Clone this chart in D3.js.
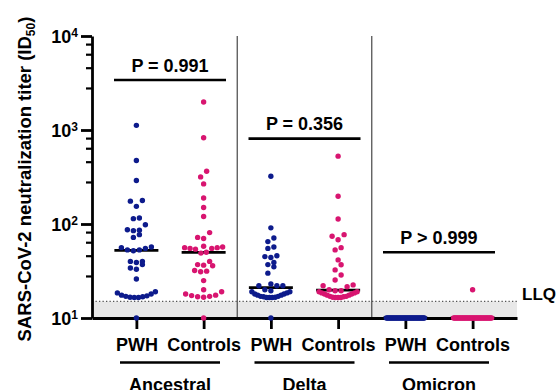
<!DOCTYPE html>
<html>
<head>
<meta charset="utf-8">
<script src="https://cdn.jsdelivr.net/npm/d3@7"></script>
<style>
body { margin: 0; background: #fff; }
svg text { font-family: "Liberation Sans", Arial, sans-serif; font-weight: bold; fill: #000; }
</style>
</head>
<body>
<div id="chart"></div>
<script>
var variants = ["Ancestral", "Delta", "Omicron"];
var groups = ["PWH", "Controls"];
var pLabels = ["P = 0.991", "P = 0.356", "P > 0.999"];
var pBracketAt = [3400, 810, 50];   // titer level of each P bracket
var llq = 15;
var yTicks = [10, 100, 1000, 10000];
var yMinor = [28, 46, 64, 82, 280, 460, 640, 820, 2800, 4600, 6400, 8200];

var ancestralPWH = [1120, 474, 290, 178, 175, 154, 116, 114, 98, 87, 86, 85, 77, 72,
    57, 56, 55, 53, 53, 52, 40, 40, 39, 37, 34, 33, 26,
    19, 18.5, 18, 17.5, 17.2, 17, 16.8, 16.5, 16.5, 16.6, 10];
var ancestralControls = [1985, 828, 364, 317, 267, 189, 150, 120, 81, 72, 70,
    58, 57, 56, 56, 55, 55, 54, 50, 49, 40, 37, 36.5, 36, 32, 31.5, 31, 25,
    20, 19, 18, 17.5, 17.3, 17, 16.8, 16.6, 10];
var deltaPWH = [322, 91, 71, 65, 57, 55, 46, 45, 44, 39, 37, 35, 30, 23, 22, 22, 22,
    20, 19.5, 19, 19, 18.5, 18, 18, 17.5, 17.5, 17, 17, 16.8, 16.6, 16.5, 16.5, 16.5, 10];
var deltaControls = [527, 197, 113, 77, 74, 68, 56, 53, 41.5, 36.8, 32.5, 28.7, 25.4, 22.5, 22, 21.5,
    20, 19.5, 19.5, 19, 19, 18.5, 18.5, 18, 18, 17.5, 17.5, 17, 17, 16.8, 16.6, 16.5, 16.5, 16.5];
var omicronPWH = [10, 10, 10, 10, 10, 10, 10, 10, 10, 10, 10, 10, 10, 10, 10, 10, 10, 10, 10,
    10, 10, 10, 10, 10, 10, 10, 10, 10, 10, 10, 10, 10, 10, 10, 10, 10, 10];
var omicronControls = [20, 10, 10, 10, 10, 10, 10, 10, 10, 10, 10, 10, 10, 10, 10, 10, 10, 10, 10,
    10, 10, 10, 10, 10, 10, 10, 10, 10, 10, 10, 10, 10, 10, 10, 10, 10, 10];

var series = [ancestralPWH, ancestralControls, deltaPWH, deltaControls, omicronPWH, omicronControls];
var colors = { PWH: "#0d1b8c", Controls: "#d81570" };

var width = 559, height = 390;
var plotLeft = 92, plotRight = 517, plotTop = 36, plotBottom = 318;
var r = 2.7, rowH = 6.5, dotStep = 6, maxSpread = 38, medHalf = 22;

var svg = d3.select("#chart").append("svg")
    .attr("width", width)
    .attr("height", height);

var keys = [];
variants.forEach(function (v) { groups.forEach(function (g) { keys.push(v + "|" + g); }); });

var x = d3.scalePoint().domain(keys).range([plotLeft, plotRight]).padding(0.66);
var y = d3.scaleLog().domain([10, 10000]).range([plotBottom, plotTop]);

// area below the limit of quantification
svg.append("rect")
    .attr("x", plotLeft)
    .attr("y", y(llq))
    .attr("width", plotRight - plotLeft)
    .attr("height", plotBottom - y(llq))
    .style("fill", "#e8e8e8");

svg.append("line")
    .attr("x1", plotLeft).attr("x2", plotRight)
    .attr("y1", y(llq)).attr("y2", y(llq))
    .style("stroke", "#555")
    .style("stroke-width", 1.3)
    .style("stroke-dasharray", "1.3,2.2");

svg.append("text")
    .text("LLQ")
    .attr("x", plotRight + 5)
    .attr("y", y(llq) - 1.5)
    .style("font-size", "17px");

// dividers between variants
for (var i = 1; i < variants.length; i++) {
    var xm = (x(keys[2 * i - 1]) + x(keys[2 * i])) / 2;
    svg.append("line")
        .attr("x1", xm).attr("x2", xm)
        .attr("y1", plotTop).attr("y2", plotBottom)
        .style("stroke", "#555")
        .style("stroke-width", 1.3);
}

function swarm(values, cx) {
    var pts = values.map(function (v) { return { v: v, py: y(v) }; })
        .sort(function (a, b) { return b.py - a.py; });
    var rows = [];
    pts.forEach(function (p) {
        var row = rows[rows.length - 1];
        if (row && row[0].py - p.py < rowH) row.push(p);
        else rows.push([p]);
    });
    rows.forEach(function (row) {
        row.sort(function (a, b) { return a.v - b.v; });
        var n = row.length;
        var step = n > 1 ? Math.min(dotStep, maxSpread / (n - 1)) : 0;
        var slots = d3.range(n).map(function (k) { return (k - (n - 1) / 2) * step; })
            .sort(function (a, b) { return Math.abs(a) - Math.abs(b) || a - b; });
        row.forEach(function (p, k) { p.px = cx + slots[k]; });
    });
    return pts;
}

// medians (drawn under the dots)
series.forEach(function (vals, i) {
    var cx = x(keys[i]);
    var m = d3.median(vals);
    svg.append("line")
        .attr("x1", cx - medHalf).attr("x2", cx + medHalf)
        .attr("y1", y(m)).attr("y2", y(m))
        .style("stroke", "#000")
        .style("stroke-width", 2.8);
});

var axisW = 2.8;

var xAxis = d3.axisBottom(x)
    .tickSize(11)
    .tickSizeOuter(0)
    .tickPadding(9)
    .tickFormat(function (k) { return k.split("|")[1]; });

var gx = svg.append("g")
    .attr("transform", "translate(0," + plotBottom + ")")
    .call(xAxis);
gx.selectAll("path, line").style("stroke", "#000").style("stroke-width", axisW);
gx.attr("font-family", null).attr("font-size", null);
gx.selectAll("text").style("font-size", "18px").style("fill", "#000");

var yAxisMinor = d3.axisLeft(y).tickValues(yMinor).tickSize(6).tickFormat("");
var gym = svg.append("g")
    .attr("transform", "translate(" + plotLeft + ",0)")
    .call(yAxisMinor);
gym.select(".domain").remove();
gym.selectAll("line").style("stroke", "#000").style("stroke-width", 2.2);

var yAxis = d3.axisLeft(y).tickValues(yTicks).tickSize(11).tickSizeOuter(0).tickFormat("");
var gy = svg.append("g")
    .attr("transform", "translate(" + plotLeft + ",0)")
    .call(yAxis);
gy.attr("font-family", null).attr("font-size", null);
gy.selectAll("path, line").style("stroke", "#000").style("stroke-width", axisW);
gy.selectAll(".tick").each(function (d) {
    var t = d3.select(this).append("text")
        .attr("x", -14)
        .attr("y", 6.5)
        .style("text-anchor", "end")
        .style("font-size", "18px");
    t.append("tspan").text("10");
    t.append("tspan").text(Math.round(Math.log10(d))).attr("dy", -6.5).style("font-size", "12px");
});

// dots
series.forEach(function (vals, i) {
    var g = keys[i].split("|")[1];
    svg.append("g").selectAll("circle")
        .data(swarm(vals, x(keys[i])))
        .enter()
        .append("circle")
        .attr("cx", function (d) { return d.px; })
        .attr("cy", function (d) { return d.py; })
        .attr("r", r)
        .style("fill", colors[g]);
});

// P value brackets and variant labels
variants.forEach(function (v, i) {
    var cx = (x(keys[2 * i]) + x(keys[2 * i + 1])) / 2;
    var by = y(pBracketAt[i]);
    svg.append("line")
        .attr("x1", cx - 56).attr("x2", cx + 56)
        .attr("y1", by).attr("y2", by)
        .style("stroke", "#000")
        .style("stroke-width", 2.6);
    svg.append("text")
        .text(pLabels[i])
        .attr("x", cx)
        .attr("y", by - 8.5)
        .style("text-anchor", "middle")
        .style("font-size", "18px");

    svg.append("line")
        .attr("x1", cx - 50).attr("x2", cx + 50)
        .attr("y1", 362.5).attr("y2", 362.5)
        .style("stroke", "#000")
        .style("stroke-width", 2.6);
    svg.append("text")
        .text(v)
        .attr("x", cx)
        .attr("y", 390.5)
        .style("text-anchor", "middle")
        .style("font-size", "18px");
});

var title = svg.append("text")
    .attr("transform", "translate(31," + ((plotTop + plotBottom) / 2 + 2) + ") rotate(-90)")
    .style("text-anchor", "middle")
    .style("font-size", "18.5px");
title.append("tspan").text("SARS-CoV-2 neutralization titer (ID");
title.append("tspan").text("50").attr("dy", 4).style("font-size", "12px");
title.append("tspan").text(")").attr("dy", -4);
</script>
</body>
</html>
